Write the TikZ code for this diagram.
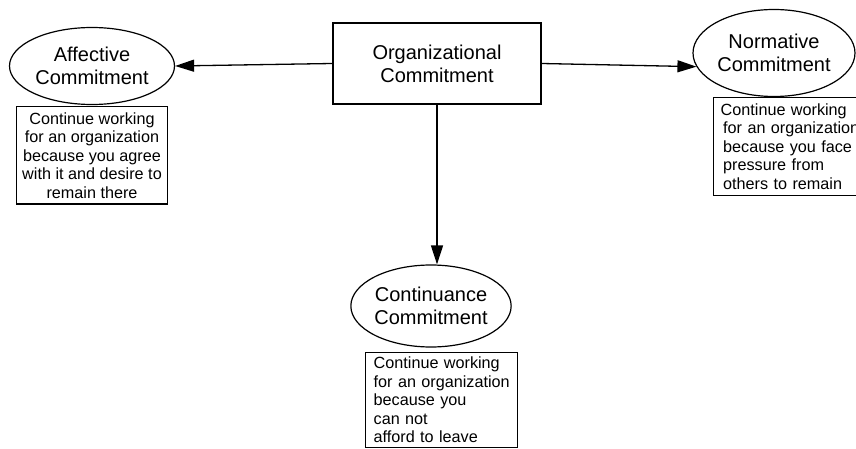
\documentclass[tikz,border=0pt]{standalone}
\usepackage{fontspec}
\setmainfont{Liberation Sans}
\usepackage{tikz}
\usetikzlibrary{shapes.geometric, arrows.meta, positioning}

\begin{document}
\begin{tikzpicture}[x=1pt, y=-1pt]
      \tikzset{
        kind/.style={ellipse, draw=black, line width=1.2pt, inner sep=0pt,
                     align=center, font=\fontsize{20}{23}\selectfont},
        core/.style={rectangle, draw=black, line width=1.4pt, align=center,
                     minimum width=208pt, minimum height=81pt,
                     font=\fontsize{20}{23}\selectfont},
        descr/.style={rectangle, draw=black, line width=1.4pt, inner ysep=0pt,
                      font=\fontsize{16.2}{18.5}\selectfont},
        link/.style={-{Triangle[length=19pt, width=12pt]}, line width=1.3pt}
      }

      \useasboundingbox (0,0) rectangle (856,449);
      \clip (0,0) rectangle (856,449);

      \node[core] (org) at (437,63.5) {Organizational\\Commitment};

      \node[kind, minimum width=165pt, minimum height=77pt] (affective) at (92,66)
        {Affective\\Commitment};
      \node[kind, minimum width=162pt, minimum height=87pt] (normative) at (774,53)
        {Normative\\Commitment};
      \node[kind, minimum width=152pt, minimum height=82pt] (continuance) at (431,306)
        {Continuance\\Commitment};

      \node[descr, align=center, inner xsep=6pt, minimum height=97pt,
            below=1pt of affective] (affnote) {
        Continue working\\
        for an organization\\
        because you agree\\
        with it and desire to\\
        remain there
      };

      \node[descr, text width=156pt, align=left, inner xsep=7pt, minimum height=98pt,
            anchor=north west] (normnote) at (713,97) {
        Continue working\\
        \hspace*{2.5pt}for an organization\\
        \hspace*{2.5pt}because you face\\
        \hspace*{2.5pt}pressure from\\
        \hspace*{2.5pt}others to remain
      };

      \node[descr, text width=136pt, align=left, inner xsep=8pt, minimum height=95pt,
            anchor=north west] (contnote) at (365,352) {
        Continue working\\
        for an organization\\
        because you\\
        can not\\
        afford to leave
      };

      \draw[link] (org.west) -- (affective.east);
      \draw[link] (org.east) -- (normative.190);
      \draw[link] (org.south) -- (org.south |- continuance.north);

    \end{tikzpicture}
\end{document}
